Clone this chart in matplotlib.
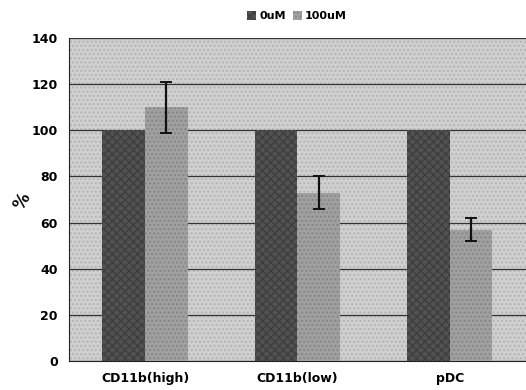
import matplotlib.pyplot as plt
import numpy as np

# data
categories = ['CD11b(high)', 'CD11b(low)', 'pDC']
series_names = ['0uM', '100uM']
ctrl_values = [100, 100, 100]
treat_values = [110, 73, 57]
treat_errors = [11, 7, 5]
y_ticks = [0, 20, 40, 60, 80, 100, 120, 140]


def main():
    plt.rcParams['font.family'] = ['DejaVu Sans']
    plt.rcParams['font.weight'] = 'bold'

    fig = plt.figure(figsize=(5.26, 3.90), dpi=100)
    ax = fig.add_axes([0.131, 0.074, 0.869, 0.829])

    x = np.arange(len(categories))
    w = 0.28

    # stippled grey plot area
    ax.set_facecolor('#d0d0d0')
    ax.patch.set_hatch('....')
    ax.patch.set_edgecolor('#b4b4b4')

    ax.bar(x - w / 2, ctrl_values, width=w, color='#525252', hatch='xxxx',
           edgecolor='#3e3e3e', linewidth=0, label=series_names[0], zorder=3)
    ax.bar(x + w / 2, treat_values, width=w, color='#a0a0a0', hatch='....',
           edgecolor='#868686', linewidth=0, label=series_names[1], zorder=3)
    ax.errorbar(x + w / 2, treat_values, yerr=treat_errors, fmt='none',
                ecolor='#111111', elinewidth=1.6, capsize=4, capthick=1.4, zorder=4)

    ax.set_xlim(-0.5, 2.5)
    ax.set_ylim(0, 140)
    ax.set_yticks(y_ticks)
    ax.set_xticks(x)
    ax.set_xticklabels(categories, fontsize=9, fontweight='bold')
    ax.tick_params(axis='y', labelsize=9, length=0, pad=8)
    ax.tick_params(axis='x', length=0, pad=8)
    ax.yaxis.grid(True, color='#333333', linewidth=0.9, zorder=2)
    ax.set_axisbelow(True)

    for side in ['top', 'right']:
        ax.spines[side].set_visible(False)
    ax.spines['left'].set_color('#222222')
    ax.spines['bottom'].set_color('#222222')

    ax.set_ylabel('%', fontsize=12, fontweight='bold', rotation=60)
    ax.yaxis.set_label_coords(-0.085, 0.48)

    fig.legend(loc='center', bbox_to_anchor=(0.565, 0.958), ncol=2, frameon=False,
               fontsize=8, handlelength=0.8, handleheight=0.8,
               handletextpad=0.3, columnspacing=0.6)

    fig.savefig('out.png', dpi=100)


if __name__ == "__main__":
    main()
